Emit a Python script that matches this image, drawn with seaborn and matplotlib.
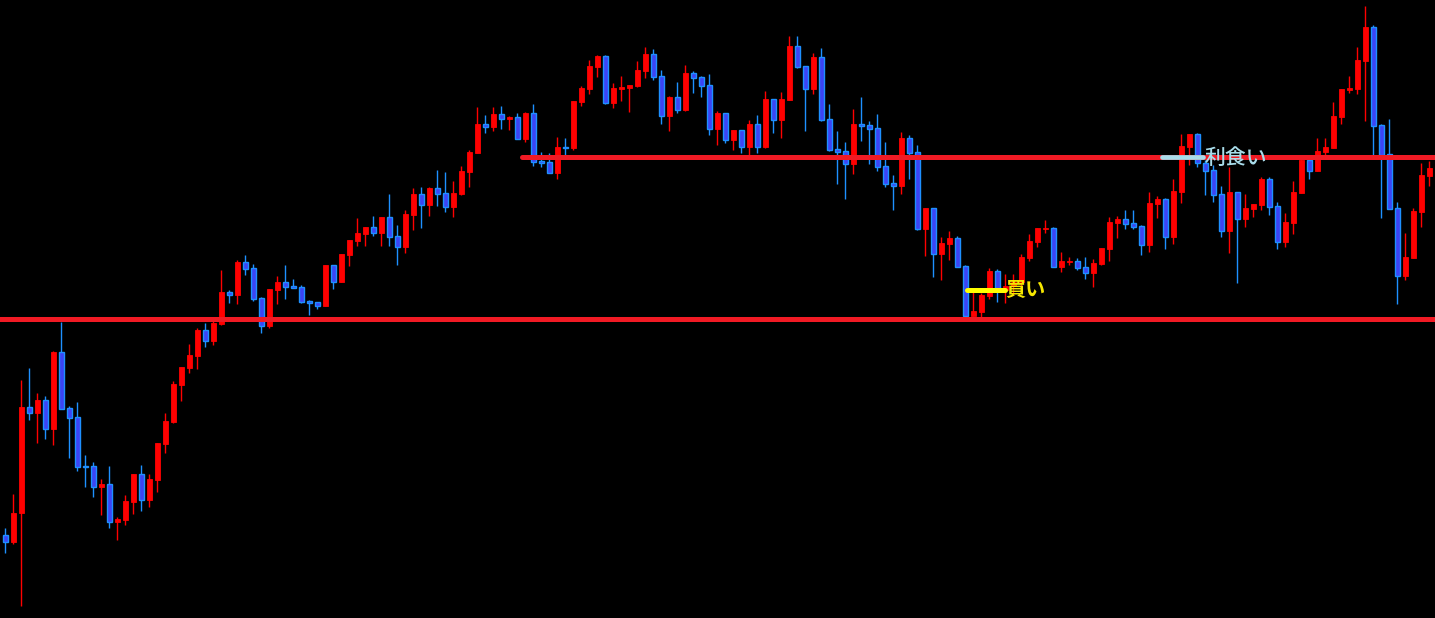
import numpy as np
import seaborn as sns
import matplotlib.pyplot as plt

sns.set_style("dark", {"axes.facecolor": "black", "figure.facecolor": "black"})
plt.rcParams['font.family'] = ['Noto Sans CJK JP', 'DejaVu Sans']

# chart height in pixels, readings below are screen y values (top = 0)
CHART_H = 618

open_y = [535, 542, 513, 407, 413, 400, 429, 352, 408, 417, 466, 466, 487, 484, 522, 520, 502, 474, 500, 480,
          444, 422, 385, 368, 356, 330, 341, 324, 292, 295, 262, 268, 298, 326, 290, 282, 286, 287, 301, 302,
          306, 265, 282, 255, 241, 234, 227, 233, 217, 236, 247, 215, 194, 205, 188, 193, 207, 194, 172, 153,
          124, 127, 114, 119, 117, 139, 113, 161, 162, 173, 147, 148, 102, 89, 67, 56, 103, 89, 88, 86,
          71, 54, 76, 116, 97, 110, 73, 77, 85, 129, 113, 140, 130, 147, 124, 147, 99, 120, 100, 46,
          66, 89, 57, 119, 149, 151, 164, 124, 125, 128, 166, 183, 186, 138, 152, 229, 208, 254, 244, 238,
          266, 316, 312, 296, 271, 290, 286, 282, 258, 242, 229, 228, 267, 262, 261, 267, 273, 264, 249, 223,
          219, 223, 226, 245, 204, 199, 237, 192, 147, 134, 163, 170, 194, 231, 192, 219, 209, 205, 179, 206,
          242, 223, 193, 160, 171, 152, 148, 117, 90, 89, 61, 27, 125, 154, 208, 276, 258, 212, 176]
high_y = [528, 494, 380, 368, 393, 396, 351, 322, 406, 402, 455, 462, 479, 466, 517, 495, 474, 465, 474, 443,
          413, 381, 367, 344, 328, 323, 321, 270, 290, 260, 255, 264, 297, 289, 276, 265, 279, 285, 300, 302,
          265, 265, 254, 240, 218, 227, 216, 217, 194, 225, 210, 188, 187, 187, 170, 172, 181, 166, 150, 107,
          115, 107, 106, 116, 113, 112, 104, 152, 153, 137, 138, 101, 86, 60, 55, 55, 83, 76, 85, 61,
          47, 49, 70, 96, 82, 65, 71, 76, 74, 111, 113, 130, 130, 120, 115, 91, 99, 92, 36, 36,
          66, 53, 48, 104, 131, 142, 109, 97, 121, 114, 142, 175, 132, 135, 145, 208, 208, 237, 231, 236,
          265, 290, 293, 268, 269, 274, 274, 254, 234, 228, 220, 227, 252, 257, 258, 257, 259, 248, 217, 216,
          210, 210, 225, 192, 196, 198, 179, 134, 134, 133, 160, 165, 186, 167, 192, 194, 204, 177, 177, 202,
          213, 181, 158, 158, 138, 138, 102, 89, 76, 47, 6, 25, 124, 119, 202, 233, 208, 163, 161]
low_y = [553, 544, 606, 420, 443, 439, 445, 409, 458, 471, 487, 497, 515, 528, 540, 525, 514, 511, 507, 492,
         453, 423, 401, 373, 369, 347, 345, 325, 303, 304, 275, 301, 333, 328, 304, 299, 288, 303, 315, 309,
         306, 289, 282, 266, 246, 246, 236, 246, 246, 265, 253, 230, 228, 216, 206, 212, 217, 195, 187, 153,
         133, 131, 129, 130, 139, 142, 166, 167, 173, 179, 157, 150, 106, 94, 77, 104, 108, 101, 112, 87,
         78, 80, 124, 131, 113, 111, 93, 97, 135, 145, 143, 150, 153, 157, 153, 148, 133, 138, 100, 68,
         131, 94, 121, 151, 184, 199, 174, 141, 164, 171, 187, 210, 194, 179, 230, 256, 277, 280, 260, 267,
         316, 316, 317, 299, 302, 303, 295, 288, 261, 247, 233, 267, 272, 265, 270, 279, 287, 265, 261, 238,
         229, 229, 255, 252, 218, 249, 244, 203, 165, 167, 195, 202, 237, 253, 283, 227, 217, 210, 215, 249,
         247, 234, 193, 179, 171, 156, 148, 124, 93, 94, 121, 157, 218, 209, 304, 280, 258, 227, 186]
close_y = [542, 513, 407, 413, 400, 429, 352, 409, 418, 467, 467, 487, 484, 522, 519, 501, 474, 500, 479, 443,
           421, 384, 367, 355, 330, 341, 323, 292, 295, 262, 269, 299, 326, 289, 282, 287, 288, 302, 303, 306,
           265, 282, 254, 240, 233, 227, 233, 217, 237, 247, 214, 194, 205, 188, 194, 207, 193, 171, 152, 124,
           127, 114, 119, 117, 139, 113, 162, 163, 173, 147, 148, 101, 88, 66, 56, 103, 88, 87, 85, 70,
           54, 77, 116, 97, 110, 73, 78, 86, 129, 113, 140, 130, 147, 124, 147, 99, 120, 99, 46, 67,
           89, 57, 120, 150, 152, 164, 124, 126, 129, 167, 184, 186, 138, 153, 229, 208, 254, 243, 238, 267,
           316, 311, 295, 271, 290, 286, 282, 257, 241, 228, 228, 267, 261, 261, 268, 273, 263, 248, 222, 219,
           224, 227, 245, 203, 199, 237, 191, 146, 134, 163, 171, 195, 231, 192, 219, 208, 204, 179, 207, 242,
           222, 192, 160, 171, 151, 147, 116, 89, 88, 60, 27, 126, 155, 209, 276, 257, 211, 175, 168]

# horizontal levels and trade marks (screen y)
support_y = 319
resist_y = 157
resist_start = 64.6
buy_y = 290
buy_span = (120.2, 125.0)
take_y = 157
take_span = (144.6, 149.7)

o = CHART_H - np.array(open_y, dtype=float)
h = CHART_H - np.array(high_y, dtype=float)
l = CHART_H - np.array(low_y, dtype=float)
c = CHART_H - np.array(close_y, dtype=float)
x = np.arange(len(o))
up = c >= o

RED = "#ff0000"
BLUE_FILL = "#3c44f4"
BLUE_EDGE = "#1e90ff"
LINE_RED = "#f01a24"

fig = plt.figure(figsize=(14.35, 6.18), dpi=100)
ax = fig.add_axes([0, 0, 1, 1])
ax.set_facecolor("black")

# wicks
ax.vlines(x[up], l[up], h[up], color=RED, linewidth=1.0, zorder=1)
ax.vlines(x[~up], l[~up], h[~up], color=BLUE_EDGE, linewidth=1.0, zorder=1)

# bodies
ax.bar(x[up], c[up] - o[up], bottom=o[up], width=0.62, color=RED,
       edgecolor=RED, linewidth=0.6, zorder=2)
ax.bar(x[~up], c[~up] - o[~up], bottom=o[~up], width=0.62, color=BLUE_FILL,
       edgecolor=BLUE_EDGE, linewidth=1.0, zorder=2)

# support / resistance
ax.plot([-5, 200], [CHART_H - support_y] * 2, color=LINE_RED, linewidth=3.6, zorder=3)
ax.plot([resist_start, 200], [CHART_H - resist_y] * 2, color=LINE_RED, linewidth=3.6,
        solid_capstyle="round", zorder=3)

# entry / exit marks
ax.plot(buy_span, [CHART_H - buy_y] * 2, color="#ffff00", linewidth=3.6,
        solid_capstyle="round", zorder=4)
ax.text(buy_span[1] + 0.05, CHART_H - buy_y + 1, "買い", color="#f5e600", fontsize=14.5,
        fontweight="bold", va="center", ha="left", zorder=5)
ax.plot(take_span, [CHART_H - take_y] * 2, color="#a8dcea", linewidth=3.4,
        solid_capstyle="round", zorder=4)
ax.text(take_span[1] + 0.15, CHART_H - take_y - 1, "利食い", color="#a8dcea", fontsize=15,
        fontweight="medium", va="center", ha="left", zorder=5)

ax.set_xlim(-0.6625, 178.71)
ax.set_ylim(0, CHART_H)
ax.axis("off")

plt.savefig("out.png", dpi=100, facecolor="black")
